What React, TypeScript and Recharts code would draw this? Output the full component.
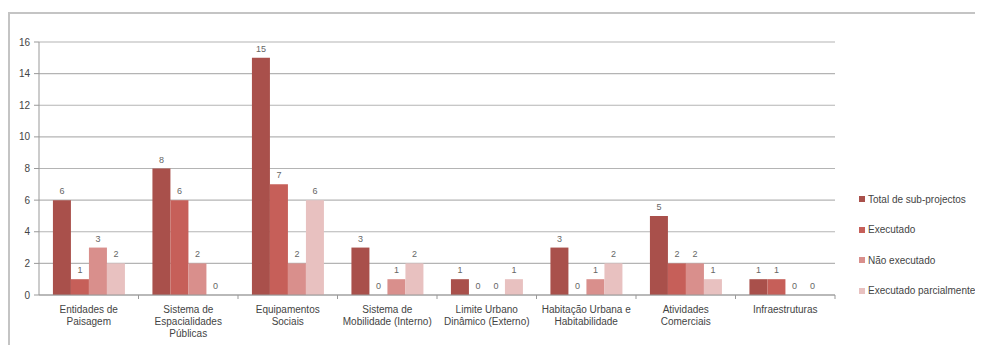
import React from "react";
import { BarChart, Bar, XAxis, YAxis, CartesianGrid, LabelList } from "recharts";

const categories = [
  "Entidades de\nPaisagem",
  "Sistema de\nEspacialidades\nPúblicas",
  "Equipamentos\nSociais",
  "Sistema de\nMobilidade (Interno)",
  "Limite Urbano\nDinâmico (Externo)",
  "Habitação Urbana e\nHabitabilidade",
  "Atividades\nComerciais",
  "Infraestruturas",
];
const totalSub = [6, 8, 15, 3, 1, 3, 5, 1];
const executado = [1, 6, 7, 0, 0, 0, 2, 1];
const naoExecutado = [3, 2, 2, 1, 0, 1, 2, 0];
const parcial = [2, 0, 6, 2, 1, 2, 1, 0];
const yTicks = [0, 2, 4, 6, 8, 10, 12, 14, 16];

const series = [
  { key: "total", name: "Total de sub-projectos", color: "#a9504b", values: totalSub },
  { key: "exec", name: "Executado", color: "#c65f59", values: executado },
  { key: "nao", name: "Não executado", color: "#d98f8c", values: naoExecutado },
  { key: "parc", name: "Executado parcialmente", color: "#e8c1c0", values: parcial },
];

const data = categories.map((c, i) => {
  const row: any = { name: c };
  series.forEach((s) => (row[s.key] = s.values[i]));
  return row;
});

const FONT = "'Liberation Sans', Arial, sans-serif";

const XTick = (props: any) => {
  const { x, y, payload } = props;
  const lines = String(payload.value).split("\n");
  const half = payload.offset ?? 49.75;
  return (
    <g>
      <line x1={x + half} x2={x + half} y1={y} y2={y + 4} stroke="#999" strokeWidth={1} />
      <text x={x} y={y + 18} textAnchor="middle" fontSize={10} fill="#444" fontFamily={FONT}>
        {lines.map((l, i) => (
          <tspan key={i} x={x} dy={i === 0 ? 0 : 12}>
            {l}
          </tspan>
        ))}
      </text>
    </g>
  );
};

const ValueLabel = (props: any) => {
  const { x, y, width, height, value } = props;
  const top = height < 0 ? y + height : y;
  return (
    <text
      x={Number(x) + Number(width) / 2}
      y={top - 6}
      textAnchor="middle"
      fontSize={9}
      fill="#666"
      fontFamily={FONT}
    >
      {value}
    </text>
  );
};

export default function App() {
  return (
    <div style={{ position: "relative", width: 975, height: 337 }}>
      <div
        style={{
          position: "absolute",
          left: 0,
          top: 4,
          width: 975,
          height: 333,
          borderTop: "2px solid #c4c4c4",
          borderLeft: "2px solid #c4c4c4",
          boxSizing: "border-box",
        }}
      />
      <div style={{ position: "absolute", left: 0, top: 0 }}>
        <BarChart
          width={975}
          height={337}
          data={data}
          margin={{ top: 34, right: 148, bottom: 0, left: 0 }}
          barCategoryGap="14%"
          barGap={0}
        >
          <CartesianGrid vertical={false} stroke="#b4b4b4" strokeWidth={1.2} />
          <XAxis
            dataKey="name"
            interval={0}
            tick={<XTick />}
            tickLine={false}
            tickSize={0}
            tickMargin={0}
            height={50}
            stroke="#999"
          />
          <YAxis
            domain={[0, 16]}
            ticks={yTicks}
            width={31}
            tickSize={5}
            tickMargin={4}
            stroke="#999"
            tick={{ fontSize: 10, fill: "#444", fontFamily: FONT }}
            interval={0}
          />
          {series.map((s) => (
            <Bar
              key={s.key}
              dataKey={s.key}
              name={s.name}
              fill={s.color}
              minPointSize={0.01}
              isAnimationActive={false}
            >
              <LabelList dataKey={s.key} content={<ValueLabel />} />
            </Bar>
          ))}
        </BarChart>
      </div>
      <div
        style={{
          position: "absolute",
          left: 851,
          top: 176,
          fontFamily: FONT,
          fontSize: 10,
          color: "#444",
        }}
      >
        {series.map((s) => (
          <div key={s.key} style={{ display: "flex", alignItems: "center", height: 30.5, whiteSpace: "nowrap" }}>
            <span style={{ display: "inline-block", width: 6, height: 6, background: s.color, marginRight: 3 }} />
            <span>{s.name}</span>
          </div>
        ))}
      </div>
    </div>
  );
}
